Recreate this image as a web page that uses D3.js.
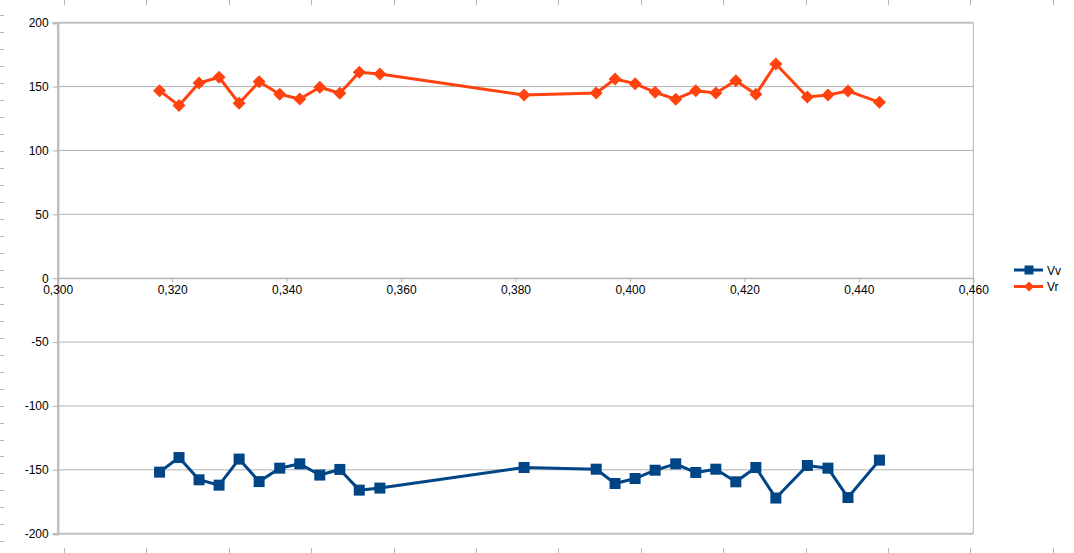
<!DOCTYPE html>
<html><head><meta charset="utf-8">
<script src="https://cdn.jsdelivr.net/npm/d3@7"></script>
<style>body{margin:0;background:#fff;}svg{display:block;font-family:"Liberation Sans",Arial,sans-serif;}</style>
</head><body>
<svg id="c" width="1074" height="553"></svg>
<script>
const xValues = [0.3178,0.3212,0.3247,0.3282,0.3317,0.3352,0.3388,0.3423,0.3458,0.3493,0.3527,0.3563,0.3815,0.3941,0.3974,0.4009,0.4044,0.4080,0.4115,0.4150,0.4185,0.4220,0.4255,0.4310,0.4346,0.4381,0.4436];
const vv = [-151.8,-140.4,-157.8,-162.0,-141.6,-159.2,-148.7,-145.3,-154.1,-149.7,-165.9,-164.3,-148.2,-149.5,-160.7,-156.8,-150.3,-145.3,-152.1,-149.5,-159.4,-148.2,-172.1,-146.6,-148.7,-171.7,-142.4];
const vr = [146.8,135.1,152.8,157.3,136.9,153.8,144.0,140.3,149.5,144.8,161.2,159.9,143.4,145.0,155.9,152.3,145.5,140.1,146.8,145.0,154.6,144.0,167.7,141.9,143.4,146.6,137.7];
const xTicks = [0.30,0.32,0.34,0.36,0.38,0.40,0.42,0.44,0.46];
const yTicks = [-200,-150,-100,-50,0,50,100,150,200];
const seriesNames = ["Vv","Vr"];
const seriesColors = ["#004586","#ff420e"];

const svg = d3.select("#c");
const L = 57.7, R = 973.3, T = 22.7, B = 533.7;
const x = d3.scaleLinear().domain([0.30,0.46]).range([L,R]);
const y = d3.scaleLinear().domain([-200,200]).range([B,T]);
const fmtX = v => v.toFixed(3).replace(".", ",");
const fmtY = v => String(v);

// decorative page ruler ticks
const deco = svg.append("g").attr("stroke","#b8b8b8").attr("stroke-width",1);
d3.range(15, 553, 16.98).forEach(v => deco.append("line").attr("x1",0).attr("x2",4).attr("y1",Math.round(v)+0.5).attr("y2",Math.round(v)+0.5));
d3.range(64, 1074, 82.4).forEach(v => {
  deco.append("line").attr("x1",Math.round(v)+0.5).attr("x2",Math.round(v)+0.5).attr("y1",0).attr("y2",5);
  deco.append("line").attr("x1",Math.round(v)+0.5).attr("x2",Math.round(v)+0.5).attr("y1",548).attr("y2",553);
});

// horizontal gridlines
const grid = svg.append("g");
yTicks.forEach(t => {
  const edge = (t === 200 || t === -200);
  grid.append("line").attr("x1",L).attr("x2",R)
    .attr("y1",y(t)).attr("y2",y(t))
    .attr("stroke", edge ? "#c0c0c0" : "#b3b3b3")
    .attr("stroke-width", edge ? 2 : 1);
});
// right border
grid.append("line").attr("x1",R).attr("x2",R).attr("y1",T).attr("y2",B).attr("stroke","#b3b3b3").attr("stroke-width",1);

// y axis
const yAxis = d3.axisLeft(y).tickValues(yTicks).tickSize(5).tickPadding(4).tickFormat(fmtY);
const gy = svg.append("g").attr("transform",`translate(${L},0)`).call(yAxis);
gy.select(".domain").attr("stroke","#c0c0c0").attr("stroke-width",2.5);
gy.selectAll(".tick line").attr("stroke","#b3b3b3");
gy.selectAll(".tick text").attr("font-size",12).attr("fill","#000").attr("font-family","Liberation Sans, Arial, sans-serif");

// x axis at y=0
const xAxis = d3.axisBottom(x).tickValues(xTicks).tickSize(4).tickPadding(3).tickFormat(fmtX);
const gx = svg.append("g").attr("transform",`translate(0,${y(0)})`).call(xAxis);
gx.select(".domain").attr("stroke","#b3b3b3").attr("stroke-width",1);
gx.selectAll(".tick line").attr("stroke","#b3b3b3");
gx.selectAll(".tick text").attr("font-size",12).attr("fill","#000").attr("font-family","Liberation Sans, Arial, sans-serif");

// series
const line = d3.line().x((d,i) => x(xValues[i])).y(d => y(d));
const diamond = (cx, cy, r) => `M${cx},${cy-r}L${cx+r},${cy}L${cx},${cy+r}L${cx-r},${cy}Z`;

function drawSeries(vals, color, shape) {
  const g = svg.append("g");
  g.append("path").datum(vals).attr("d", line).attr("fill","none")
    .attr("stroke",color).attr("stroke-width",3).attr("stroke-linejoin","round");
  vals.forEach((v,i) => {
    const cx = x(xValues[i]), cy = y(v);
    if (shape === "square") {
      g.append("rect").attr("x",cx-5.5).attr("y",cy-5.5).attr("width",11).attr("height",11).attr("fill",color);
    } else {
      g.append("path").attr("d",diamond(cx,cy,6.5)).attr("fill",color);
    }
  });
}
drawSeries(vv, seriesColors[0], "square");
drawSeries(vr, seriesColors[1], "diamond");

// legend
const lg = svg.append("g");
seriesNames.forEach((n,i) => {
  const ly = 270 + i*16.5;
  lg.append("line").attr("x1",1014).attr("x2",1043).attr("y1",ly).attr("y2",ly).attr("stroke",seriesColors[i]).attr("stroke-width",3);
  if (i === 0) lg.append("rect").attr("x",1024.5).attr("y",ly-4.5).attr("width",9).attr("height",9).attr("fill",seriesColors[i]);
  else lg.append("path").attr("d",diamond(1029,ly,5)).attr("fill",seriesColors[i]);
  lg.append("text").attr("x",1047).attr("y",ly+4.5).attr("font-size",12).attr("fill","#000").text(n);
});
</script>
</body></html>
